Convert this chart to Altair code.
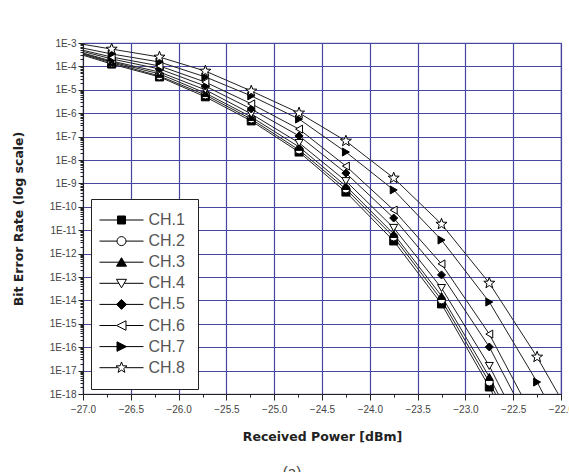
import math
import altair as alt
import pandas as pd

# ---------------- data ----------------
channels = ["CH.1", "CH.2", "CH.3", "CH.4", "CH.5", "CH.6", "CH.7", "CH.8"]

# received power sample points [dBm] (first and last lie outside the visible range)
power_dbm = [-27.2, -26.7, -26.2, -25.72, -25.24, -24.74, -24.25, -23.75, -23.25, -22.75, -22.25, -21.75]

# log10(BER) per channel at the sample points
ch1_log_ber = [-3.27, -3.90, -4.45, -5.30, -6.33, -7.66, -9.37, -11.46, -14.15, -17.70, -21.70, None]
ch2_log_ber = [-3.24, -3.85, -4.41, -5.22, -6.25, -7.57, -9.24, -11.29, -13.98, -17.49, -21.40, None]
ch3_log_ber = [-3.22, -3.81, -4.32, -5.14, -6.16, -7.44, -9.11, -11.16, -13.81, -17.27, -21.20, None]
ch4_log_ber = [-3.20, -3.77, -4.24, -5.00, -6.03, -7.27, -8.90, -10.90, -13.47, -16.80, -20.80, None]
ch5_log_ber = [-3.15, -3.68, -4.11, -4.84, -5.82, -6.97, -8.56, -10.48, -12.91, -15.99, -19.90, None]
ch6_log_ber = [-3.12, -3.60, -3.98, -4.67, -5.60, -6.68, -8.26, -10.14, -12.44, -15.44, -19.30, None]
ch7_log_ber = [-3.05, -3.47, -3.81, -4.45, -5.26, -6.25, -7.66, -9.28, -11.42, -14.07, -17.49, -21.40]
ch8_log_ber = [-2.92, -3.26, -3.60, -4.20, -5.05, -5.99, -7.19, -8.77, -10.74, -13.26, -16.42, -20.00]

all_log_ber = [ch1_log_ber, ch2_log_ber, ch3_log_ber, ch4_log_ber,
               ch5_log_ber, ch6_log_ber, ch7_log_ber, ch8_log_ber]

# axis ticks
x_major = [-27.0, -26.5, -26.0, -25.5, -25.0, -24.5, -24.0, -23.5, -23.0, -22.5, -22.0]
x_minor = [-26.75, -26.25, -25.75, -25.25, -24.75, -24.25, -23.75, -23.25, -22.75, -22.25]
y_decades = list(range(-3, -19, -1))

rows = []
for ch, vals in zip(channels, all_log_ber):
    for p, v in zip(power_dbm, vals):
        if v is not None:
            rows.append({"channel": ch, "power": p, "ber": 10.0 ** v})
df = pd.DataFrame(rows)

# ---------------- styles ----------------
def star_path(r_out, r_in):
    pts = []
    for k in range(10):
        ang = math.radians(-90 + 36 * k)
        r = r_out if k % 2 == 0 else r_in
        pts.append(f"{r * math.cos(ang):.3f},{r * math.sin(ang):.3f}")
    return "M" + "L".join(pts) + "Z"

STAR = star_path(1.45, 0.6)
plot_shapes = ["square", "circle", "triangle-up", "triangle-down",
               "diamond", "triangle-left", "triangle-right", STAR]
fills = ["black", "white", "black", "white", "black", "white", "black", "white"]
strokes = ["black"] * 8

L = 4.4  # half line length in legend symbol units
legend_shapes = [
    f"M-{L},0H{L}M-0.8,-0.8H0.8V0.8H-0.8Z",
    f"M-{L},0H-0.9M0.9,0H{L}M0.9,0A0.9,0.9,0,1,1,-0.9,0A0.9,0.9,0,1,1,0.9,0Z",
    f"M-{L},0H{L}M0,-0.9L1,0.8H-1Z",
    f"M-{L},0H-0.53M0.53,0H{L}M-1,-0.8H1L0,0.9Z",
    f"M-{L},0H{L}M0,-1L1,0L0,1L-1,0Z",
    f"M-{L},0H-1M0.9,0H{L}M-1,0L0.9,-0.95V0.95Z",
    f"M-{L},0H{L}M1,0L-0.9,-0.95V0.95Z",
    f"M-{L},0H-0.8M0.8,0H{L}" + star_path(1.15, 0.48),
]

GRID = "#4646a0"
FONT = "Liberation Sans"

x_axis = alt.Axis(
    title="Received Power [dBm]",
    values=sorted(x_major + x_minor),
    labelExpr="abs(datum.value*2 - round(datum.value*2)) < 1e-6 ? format(datum.value, '.1f') : ''",
    grid=True,
    gridColor=GRID,
    gridWidth=1.2,
    gridOpacity={"condition": {"test": "abs(datum.value*2 - round(datum.value*2)) < 1e-6", "value": 1}, "value": 0},
    tickSize={"condition": {"test": "abs(datum.value*2 - round(datum.value*2)) < 1e-6", "value": 6}, "value": 3},
    tickColor="#222",
    domainColor="#222",
    labelFont=FONT, labelFontSize=10, labelColor="#444", labelPadding=4, labelFlush=False,
    titleFont="DejaVu Sans", titleFontSize=12.5, titleFontWeight="bold", titleColor="#222",
    titlePadding=16,
)

y_values = []
for d in y_decades:
    y_values.append(10.0 ** d)
    if d > -18:
        for m in range(2, 10):
            y_values.append(m * 10.0 ** (d - 1))

Y_MAJOR = "abs(log(datum.value)/LN10 - round(log(datum.value)/LN10)) < 1e-6"
y_axis = alt.Axis(
    title="Bit Error Rate (log scale)",
    values=y_values,
    labelExpr=f"{Y_MAJOR} ? '1E-' + round(-log(datum.value)/LN10) : ''",
    grid=True,
    gridColor=GRID,
    gridWidth=1.2,
    gridOpacity={"condition": {"test": Y_MAJOR, "value": 1}, "value": 0},
    tickSize={"condition": {"test": Y_MAJOR, "value": 5}, "value": 3},
    tickColor="#222",
    domainColor="#222",
    labelFont=FONT, labelFontSize=10, labelColor="#444", labelPadding=2,
    titleFont="DejaVu Sans", titleFontSize=12.5, titleFontWeight="bold", titleColor="#222",
    titlePadding=24,
)

x_enc = alt.X("power:Q", scale=alt.Scale(domain=[-27.0, -22.0], nice=False, zero=False), axis=x_axis)
y_enc = alt.Y("ber:Q", scale=alt.Scale(type="log", domain=[1e-18, 1e-3], nice=False), axis=y_axis)

base = alt.Chart(df)

lines = base.mark_line(color="#222", strokeWidth=1, clip=True).encode(
    x=x_enc, y=y_enc, detail="channel:N"
)

points = base.mark_point(filled=True, size=64, stroke="black", strokeWidth=1, clip=True, opacity=1).encode(
    x=x_enc, y=y_enc,
    shape=alt.Shape("channel:N", scale=alt.Scale(domain=channels, range=plot_shapes), legend=None),
    fill=alt.Fill("channel:N", scale=alt.Scale(domain=channels, range=fills), legend=None),
)

legend_spec = dict(
    title=None, orient="none", legendX=8, legendY=156, direction="vertical",
    fillColor="white", strokeColor="#222", padding=13,
    labelFont=FONT, labelFontSize=16, labelColor="#555",
    symbolSize=100, symbolOffset=9.5, labelOffset=19, rowPadding=5.1,
    symbolStrokeColor="black", symbolStrokeWidth=1, symbolOpacity=1,
)

legend_layer = base.mark_point(filled=False, size=100, strokeWidth=1, opacity=0, clip=True).encode(
    x=x_enc, y=y_enc,
    shape=alt.Shape("channel:N", scale=alt.Scale(domain=channels, range=legend_shapes),
                    legend=alt.Legend(**legend_spec)),
    fill=alt.Fill("channel:N", scale=alt.Scale(domain=channels, range=fills),
                  legend=alt.Legend(**legend_spec)),
    stroke=alt.Stroke("channel:N", scale=alt.Scale(domain=channels, range=strokes),
                      legend=alt.Legend(**legend_spec)),
)

chart = (
    alt.layer(lines, points, legend_layer)
    .resolve_scale(shape="independent", fill="independent", stroke="independent")
    .properties(
        width=478, height=351,
        autosize=alt.AutoSizeParams(type="none"),
        padding={"left": 83, "top": 43, "right": 8, "bottom": 78},
        title=alt.TitleParams("(a)", orient="bottom", anchor="middle", fontSize=15,
                              font=FONT, fontWeight="normal", color="#444", offset=22, dx=-30),
        background="white",
    )
    .configure_view(stroke="#6a6aa8", strokeWidth=1.2)
)

chart.save("out.html", embed_options={"renderer": "svg", "actions": False})
